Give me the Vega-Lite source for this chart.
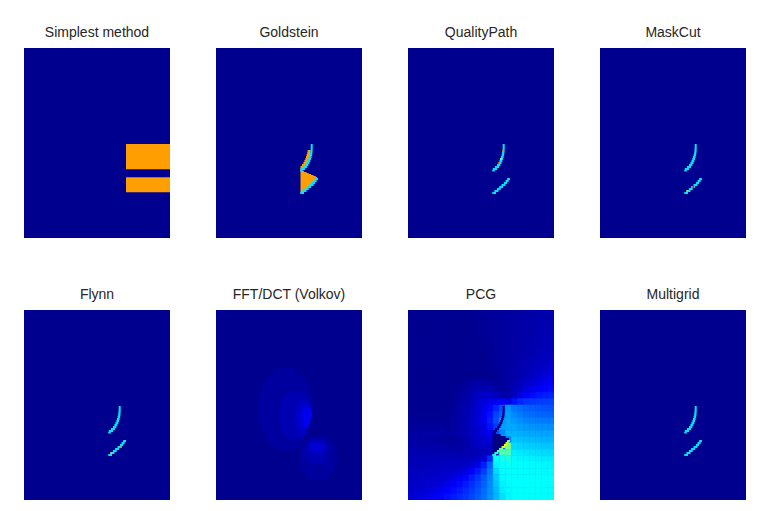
{
  "$schema": "https://vega.github.io/schema/vega-lite/v6.json",
  "background": "white",
  "padding": {"left": 24, "top": 26, "right": 0, "bottom": 0},
  "autosize": {"type": "pad"},
  "config": {
    "view": {"fill": "#00008f", "stroke": null},
    "title": {"font": "Liberation Sans", "fontSize": 14, "fontWeight": "normal", "color": "#262626", "offset": 8},
    "concat": {"spacing": 46}
  },
  "datasets": {
    "shapes": [
      {"m": ["Simplest method"], "x0": 102, "x1": 146, "y0": 96, "y1": 121.3, "v": 0.72},
      {"m": ["Simplest method"], "x0": 102, "x1": 146, "y0": 129.3, "y1": 144.3, "v": 0.72},

      {"m": ["Goldstein"], "x0": 91.6, "x1": 94.6, "y0": 102, "y1": 104, "v": 0.72},
      {"m": ["Goldstein"], "x0": 91.2, "x1": 94.4, "y0": 104, "y1": 106, "v": 0.72},
      {"m": ["Goldstein"], "x0": 90.6, "x1": 94.1, "y0": 106, "y1": 108, "v": 0.72},
      {"m": ["Goldstein"], "x0": 90, "x1": 93.6, "y0": 108, "y1": 110, "v": 0.72},
      {"m": ["Goldstein"], "x0": 89.3, "x1": 93, "y0": 110, "y1": 112, "v": 0.72},
      {"m": ["Goldstein"], "x0": 88.4, "x1": 92.3, "y0": 112, "y1": 114, "v": 0.72},
      {"m": ["Goldstein"], "x0": 87.4, "x1": 91.4, "y0": 114, "y1": 116, "v": 0.72},
      {"m": ["Goldstein"], "x0": 86, "x1": 90.4, "y0": 116, "y1": 118, "v": 0.72},
      {"m": ["Goldstein"], "x0": 84.5, "x1": 89, "y0": 118, "y1": 120, "v": 0.72},
      {"m": ["Goldstein"], "x0": 84.3, "x1": 85.5, "y0": 120, "y1": 122, "v": 0.72},
      {"m": ["Goldstein"], "x0": 84.5, "x1": 85.7, "y0": 122, "y1": 123, "v": 0.72},
      {"m": ["Goldstein"], "x0": 84.5, "x1": 88, "y0": 123, "y1": 124, "v": 0.72},
      {"m": ["Goldstein"], "x0": 84.5, "x1": 90.4, "y0": 124, "y1": 125, "v": 0.72},
      {"m": ["Goldstein"], "x0": 84.5, "x1": 92.7, "y0": 125, "y1": 126, "v": 0.72},
      {"m": ["Goldstein"], "x0": 84.5, "x1": 95.1, "y0": 126, "y1": 127, "v": 0.72},
      {"m": ["Goldstein"], "x0": 84.5, "x1": 97.5, "y0": 127, "y1": 128, "v": 0.72},
      {"m": ["Goldstein"], "x0": 84.5, "x1": 99.8, "y0": 128, "y1": 129, "v": 0.72},
      {"m": ["Goldstein"], "x0": 84.5, "x1": 101, "y0": 129, "y1": 130, "v": 0.72},
      {"m": ["Goldstein"], "x0": 84.5, "x1": 101.2, "y0": 130, "y1": 131, "v": 0.72},
      {"m": ["Goldstein"], "x0": 84.5, "x1": 100.5, "y0": 131, "y1": 132, "v": 0.72},
      {"m": ["Goldstein"], "x0": 84.5, "x1": 99.7, "y0": 132, "y1": 133, "v": 0.72},
      {"m": ["Goldstein"], "x0": 84.5, "x1": 98.9, "y0": 133, "y1": 134, "v": 0.72},
      {"m": ["Goldstein"], "x0": 84.5, "x1": 98.1, "y0": 134, "y1": 135, "v": 0.72},
      {"m": ["Goldstein"], "x0": 84.5, "x1": 97.3, "y0": 135, "y1": 136, "v": 0.72},
      {"m": ["Goldstein"], "x0": 84.5, "x1": 96.3, "y0": 136, "y1": 137, "v": 0.72},
      {"m": ["Goldstein"], "x0": 84.5, "x1": 95.1, "y0": 137, "y1": 138, "v": 0.72},
      {"m": ["Goldstein"], "x0": 84.5, "x1": 93.9, "y0": 138, "y1": 139, "v": 0.72},
      {"m": ["Goldstein"], "x0": 84.5, "x1": 92.7, "y0": 139, "y1": 140, "v": 0.72},
      {"m": ["Goldstein"], "x0": 84.5, "x1": 91.6, "y0": 140, "y1": 141, "v": 0.72},
      {"m": ["Goldstein"], "x0": 84.5, "x1": 90.5, "y0": 141, "y1": 142, "v": 0.72},
      {"m": ["Goldstein"], "x0": 84.5, "x1": 89.3, "y0": 142, "y1": 143, "v": 0.72},
      {"m": ["Goldstein"], "x0": 84.5, "x1": 88.1, "y0": 143, "y1": 144, "v": 0.72},
      {"m": ["Goldstein"], "x0": 84.5, "x1": 86.8, "y0": 144, "y1": 145, "v": 0.72},

      {"m": ["Goldstein", "QualityPath", "MaskCut", "Flynn", "Multigrid"], "x0": 94.7, "x1": 96.7, "y0": 96, "y1": 98, "v": 0.35},
      {"m": ["Goldstein", "QualityPath", "MaskCut", "Flynn", "Multigrid"], "x0": 94.7, "x1": 96.7, "y0": 98, "y1": 100, "v": 0.35},
      {"m": ["Goldstein", "QualityPath", "MaskCut", "Flynn", "Multigrid"], "x0": 94.6, "x1": 96.7, "y0": 100, "y1": 102, "v": 0.35},
      {"m": ["Goldstein", "QualityPath", "MaskCut", "Flynn", "Multigrid"], "x0": 94.4, "x1": 96.6, "y0": 102, "y1": 104, "v": 0.35},
      {"m": ["Goldstein", "QualityPath", "MaskCut", "Flynn", "Multigrid"], "x0": 94.1, "x1": 96.4, "y0": 104, "y1": 106, "v": 0.35},
      {"m": ["Goldstein", "QualityPath", "MaskCut", "Flynn", "Multigrid"], "x0": 93.6, "x1": 96.1, "y0": 106, "y1": 108, "v": 0.35},
      {"m": ["Goldstein", "QualityPath", "MaskCut", "Flynn", "Multigrid"], "x0": 93, "x1": 95.6, "y0": 108, "y1": 110, "v": 0.35},
      {"m": ["Goldstein", "QualityPath", "MaskCut", "Flynn", "Multigrid"], "x0": 92.3, "x1": 95, "y0": 110, "y1": 112, "v": 0.35},
      {"m": ["Goldstein", "QualityPath", "MaskCut", "Flynn", "Multigrid"], "x0": 91.4, "x1": 94.3, "y0": 112, "y1": 114, "v": 0.35},
      {"m": ["Goldstein", "QualityPath", "MaskCut", "Flynn", "Multigrid"], "x0": 90.4, "x1": 93.4, "y0": 114, "y1": 116, "v": 0.35},
      {"m": ["Goldstein", "QualityPath", "MaskCut", "Flynn", "Multigrid"], "x0": 89, "x1": 92.4, "y0": 116, "y1": 118, "v": 0.35},
      {"m": ["Goldstein", "QualityPath", "MaskCut", "Flynn", "Multigrid"], "x0": 87, "x1": 91, "y0": 118, "y1": 120, "v": 0.35},
      {"m": ["Goldstein", "QualityPath", "MaskCut", "Flynn", "Multigrid"], "x0": 84.8, "x1": 89, "y0": 120, "y1": 122, "v": 0.35},
      {"m": ["Goldstein", "QualityPath", "MaskCut", "Flynn", "Multigrid"], "x0": 84.2, "x1": 86.8, "y0": 122, "y1": 123.5, "v": 0.35},
      {"m": ["Goldstein", "QualityPath", "MaskCut", "Flynn", "Multigrid"], "x0": 99.1, "x1": 102, "y0": 130, "y1": 132, "v": 0.35},
      {"m": ["Goldstein", "QualityPath", "MaskCut", "Flynn", "Multigrid"], "x0": 97.5, "x1": 100.7, "y0": 132, "y1": 134, "v": 0.35},
      {"m": ["Goldstein", "QualityPath", "MaskCut", "Flynn", "Multigrid"], "x0": 95.9, "x1": 99.1, "y0": 134, "y1": 136, "v": 0.35},
      {"m": ["Goldstein", "QualityPath", "MaskCut", "Flynn", "Multigrid"], "x0": 93.5, "x1": 97.5, "y0": 136, "y1": 138, "v": 0.35},
      {"m": ["Goldstein", "QualityPath", "MaskCut", "Flynn", "Multigrid"], "x0": 91.1, "x1": 95.1, "y0": 138, "y1": 140, "v": 0.35},
      {"m": ["Goldstein", "QualityPath", "MaskCut", "Flynn", "Multigrid"], "x0": 88.9, "x1": 92.7, "y0": 140, "y1": 142, "v": 0.35},
      {"m": ["Goldstein", "QualityPath", "MaskCut", "Flynn", "Multigrid"], "x0": 86.4, "x1": 90.5, "y0": 142, "y1": 144, "v": 0.35},
      {"m": ["Goldstein", "QualityPath", "MaskCut", "Flynn", "Multigrid"], "x0": 84.3, "x1": 88, "y0": 144, "y1": 146, "v": 0.35},

      {"m": ["QualityPath"], "x0": 94.2, "x1": 95.8, "y0": 102, "y1": 104, "v": 0.75},
      {"m": ["QualityPath"], "x0": 92.2, "x1": 93.8, "y0": 110, "y1": 112, "v": 0.5},
      {"m": ["QualityPath"], "x0": 89.8, "x1": 91.4, "y0": 114, "y1": 116, "v": 0.8},
      {"m": ["MaskCut"], "x0": 92.4, "x1": 94.2, "y0": 138, "y1": 140, "v": 0.85},
      {"m": ["MaskCut"], "x0": 86.4, "x1": 88.2, "y0": 142, "y1": 144, "v": 0.7},
      {"m": ["Flynn"], "x0": 96.4, "x1": 98, "y0": 136, "y1": 138, "v": 0.75},
      {"m": ["Flynn"], "x0": 86.4, "x1": 88.2, "y0": 142, "y1": 144, "v": 0.7},

      {"m": ["PCG"], "x0": 84.5, "x1": 88, "y0": 122, "y1": 124, "v": 0},
      {"m": ["PCG"], "x0": 84.5, "x1": 92.7, "y0": 124, "y1": 126, "v": 0},
      {"m": ["PCG"], "x0": 84.5, "x1": 97.5, "y0": 126, "y1": 128, "v": 0},
      {"m": ["PCG"], "x0": 84.5, "x1": 101, "y0": 128, "y1": 130, "v": 0},
      {"m": ["PCG"], "x0": 84.5, "x1": 100.5, "y0": 130, "y1": 132, "v": 0},
      {"m": ["PCG"], "x0": 84.5, "x1": 99, "y0": 132, "y1": 134, "v": 0},
      {"m": ["PCG"], "x0": 84.5, "x1": 97, "y0": 134, "y1": 136, "v": 0},
      {"m": ["PCG"], "x0": 84.5, "x1": 94.5, "y0": 136, "y1": 138, "v": 0},
      {"m": ["PCG"], "x0": 84.5, "x1": 92.5, "y0": 138, "y1": 140, "v": 0},
      {"m": ["PCG"], "x0": 84.5, "x1": 90, "y0": 140, "y1": 142, "v": 0},
      {"m": ["PCG"], "x0": 84.5, "x1": 87.5, "y0": 142, "y1": 144, "v": 0},
      {"m": ["PCG"], "x0": 99.1, "x1": 102, "y0": 130, "y1": 132, "v": 0.5},
      {"m": ["PCG"], "x0": 97.5, "x1": 100.7, "y0": 132, "y1": 134, "v": 0.58},
      {"m": ["PCG"], "x0": 95.9, "x1": 99.1, "y0": 134, "y1": 136, "v": 0.6},
      {"m": ["PCG"], "x0": 93.5, "x1": 97.5, "y0": 136, "y1": 138, "v": 0.58},
      {"m": ["PCG"], "x0": 91.1, "x1": 95.1, "y0": 138, "y1": 140, "v": 0.5},
      {"m": ["PCG"], "x0": 88.9, "x1": 92.7, "y0": 140, "y1": 142, "v": 0.45},
      {"m": ["PCG"], "x0": 86.4, "x1": 90.5, "y0": 142, "y1": 144, "v": 0.4},
      {"m": ["PCG"], "x0": 84.3, "x1": 88, "y0": 144, "y1": 146, "v": 0.38},
      {"m": ["PCG"], "x0": 94.7, "x1": 96.7, "y0": 96, "y1": 98, "v": 0.005},
      {"m": ["PCG"], "x0": 94.7, "x1": 96.7, "y0": 98, "y1": 100, "v": 0.005},
      {"m": ["PCG"], "x0": 94.6, "x1": 96.7, "y0": 100, "y1": 102, "v": 0.005},
      {"m": ["PCG"], "x0": 94.4, "x1": 96.6, "y0": 102, "y1": 104, "v": 0.005},
      {"m": ["PCG"], "x0": 94.1, "x1": 96.4, "y0": 104, "y1": 106, "v": 0.005},
      {"m": ["PCG"], "x0": 93.6, "x1": 96.1, "y0": 106, "y1": 108, "v": 0.005},
      {"m": ["PCG"], "x0": 93, "x1": 95.6, "y0": 108, "y1": 110, "v": 0.005},
      {"m": ["PCG"], "x0": 92.3, "x1": 95, "y0": 110, "y1": 112, "v": 0.005},
      {"m": ["PCG"], "x0": 91.4, "x1": 94.3, "y0": 112, "y1": 114, "v": 0.005},
      {"m": ["PCG"], "x0": 90.4, "x1": 93.4, "y0": 114, "y1": 116, "v": 0.005},
      {"m": ["PCG"], "x0": 89, "x1": 92.4, "y0": 116, "y1": 118, "v": 0.005},
      {"m": ["PCG"], "x0": 87, "x1": 91, "y0": 118, "y1": 120, "v": 0.005},
      {"m": ["PCG"], "x0": 84.8, "x1": 89, "y0": 120, "y1": 122, "v": 0.005},

      {"m": ["FFT/DCT (Volkov)"], "x0": 61.5, "x1": 78.5, "y0": 58, "y1": 62, "v": 0.03},
      {"m": ["FFT/DCT (Volkov)"], "x0": 55.6, "x1": 84.4, "y0": 62, "y1": 66, "v": 0.03},
      {"m": ["FFT/DCT (Volkov)"], "x0": 51.9, "x1": 88.1, "y0": 66, "y1": 70, "v": 0.03},
      {"m": ["FFT/DCT (Volkov)"], "x0": 49.1, "x1": 90.9, "y0": 70, "y1": 74, "v": 0.03},
      {"m": ["FFT/DCT (Volkov)"], "x0": 47, "x1": 93, "y0": 74, "y1": 78, "v": 0.03},
      {"m": ["FFT/DCT (Volkov)"], "x0": 45.4, "x1": 94.6, "y0": 78, "y1": 82, "v": 0.03},
      {"m": ["FFT/DCT (Volkov)"], "x0": 44.1, "x1": 95.9, "y0": 82, "y1": 86, "v": 0.03},
      {"m": ["FFT/DCT (Volkov)"], "x0": 43.2, "x1": 96.8, "y0": 86, "y1": 90, "v": 0.03},
      {"m": ["FFT/DCT (Volkov)"], "x0": 42.5, "x1": 97, "y0": 90, "y1": 94, "v": 0.03},
      {"m": ["FFT/DCT (Volkov)"], "x0": 42.1, "x1": 97, "y0": 94, "y1": 98, "v": 0.03},
      {"m": ["FFT/DCT (Volkov)"], "x0": 42, "x1": 96.5, "y0": 98, "y1": 102, "v": 0.03},
      {"m": ["FFT/DCT (Volkov)"], "x0": 42.1, "x1": 96, "y0": 102, "y1": 106, "v": 0.03},
      {"m": ["FFT/DCT (Volkov)"], "x0": 42.5, "x1": 95, "y0": 106, "y1": 110, "v": 0.03},
      {"m": ["FFT/DCT (Volkov)"], "x0": 43.2, "x1": 94, "y0": 110, "y1": 114, "v": 0.03},
      {"m": ["FFT/DCT (Volkov)"], "x0": 44.1, "x1": 92.5, "y0": 114, "y1": 118, "v": 0.03},
      {"m": ["FFT/DCT (Volkov)"], "x0": 45.4, "x1": 90, "y0": 118, "y1": 122, "v": 0.03},
      {"m": ["FFT/DCT (Volkov)"], "x0": 47, "x1": 90, "y0": 122, "y1": 126, "v": 0.03},
      {"m": ["FFT/DCT (Volkov)"], "x0": 49.1, "x1": 88, "y0": 126, "y1": 130, "v": 0.03},
      {"m": ["FFT/DCT (Volkov)"], "x0": 51.9, "x1": 86, "y0": 130, "y1": 134, "v": 0.03},
      {"m": ["FFT/DCT (Volkov)"], "x0": 55.6, "x1": 84.4, "y0": 134, "y1": 138, "v": 0.03},
      {"m": ["FFT/DCT (Volkov)"], "x0": 61.5, "x1": 78.5, "y0": 138, "y1": 142, "v": 0.03},
      {"m": ["FFT/DCT (Volkov)"], "x0": 92.6, "x1": 111.4, "y0": 126, "y1": 130, "v": 0.03},
      {"m": ["FFT/DCT (Volkov)"], "x0": 88.4, "x1": 115.6, "y0": 130, "y1": 134, "v": 0.03},
      {"m": ["FFT/DCT (Volkov)"], "x0": 85.8, "x1": 118.2, "y0": 134, "y1": 138, "v": 0.03},
      {"m": ["FFT/DCT (Volkov)"], "x0": 84.2, "x1": 119.8, "y0": 138, "y1": 142, "v": 0.03},
      {"m": ["FFT/DCT (Volkov)"], "x0": 83.3, "x1": 120.7, "y0": 142, "y1": 146, "v": 0.03},
      {"m": ["FFT/DCT (Volkov)"], "x0": 83, "x1": 121, "y0": 146, "y1": 150, "v": 0.03},
      {"m": ["FFT/DCT (Volkov)"], "x0": 83.3, "x1": 120.7, "y0": 150, "y1": 154, "v": 0.03},
      {"m": ["FFT/DCT (Volkov)"], "x0": 84.2, "x1": 119.8, "y0": 154, "y1": 158, "v": 0.03},
      {"m": ["FFT/DCT (Volkov)"], "x0": 85.8, "x1": 118.2, "y0": 158, "y1": 162, "v": 0.03},
      {"m": ["FFT/DCT (Volkov)"], "x0": 88.4, "x1": 115.6, "y0": 162, "y1": 166, "v": 0.03},
      {"m": ["FFT/DCT (Volkov)"], "x0": 92.6, "x1": 111.4, "y0": 166, "y1": 170, "v": 0.03},
      {"m": ["FFT/DCT (Volkov)"], "x0": 71.9, "x1": 88.1, "y0": 82, "y1": 86, "v": 0.05},
      {"m": ["FFT/DCT (Volkov)"], "x0": 68.2, "x1": 91.8, "y0": 86, "y1": 90, "v": 0.05},
      {"m": ["FFT/DCT (Volkov)"], "x0": 65.9, "x1": 94.1, "y0": 90, "y1": 94, "v": 0.05},
      {"m": ["FFT/DCT (Volkov)"], "x0": 64.4, "x1": 95.6, "y0": 94, "y1": 98, "v": 0.05},
      {"m": ["FFT/DCT (Volkov)"], "x0": 63.5, "x1": 96, "y0": 98, "y1": 102, "v": 0.05},
      {"m": ["FFT/DCT (Volkov)"], "x0": 63, "x1": 96, "y0": 102, "y1": 106, "v": 0.05},
      {"m": ["FFT/DCT (Volkov)"], "x0": 63, "x1": 95, "y0": 106, "y1": 110, "v": 0.05},
      {"m": ["FFT/DCT (Volkov)"], "x0": 63.5, "x1": 94, "y0": 110, "y1": 114, "v": 0.05},
      {"m": ["FFT/DCT (Volkov)"], "x0": 64.4, "x1": 92.5, "y0": 114, "y1": 118, "v": 0.05},
      {"m": ["FFT/DCT (Volkov)"], "x0": 65.9, "x1": 90, "y0": 118, "y1": 122, "v": 0.05},
      {"m": ["FFT/DCT (Volkov)"], "x0": 68.2, "x1": 91.8, "y0": 122, "y1": 126, "v": 0.05},
      {"m": ["FFT/DCT (Volkov)"], "x0": 71.9, "x1": 88.1, "y0": 126, "y1": 130, "v": 0.05},
      {"m": ["FFT/DCT (Volkov)"], "x0": 92.6, "x1": 109.4, "y0": 130, "y1": 134, "v": 0.05},
      {"m": ["FFT/DCT (Volkov)"], "x0": 90.2, "x1": 111.8, "y0": 134, "y1": 138, "v": 0.05},
      {"m": ["FFT/DCT (Volkov)"], "x0": 89.1, "x1": 112.9, "y0": 138, "y1": 142, "v": 0.05},
      {"m": ["FFT/DCT (Volkov)"], "x0": 89.1, "x1": 112.9, "y0": 142, "y1": 146, "v": 0.05},
      {"m": ["FFT/DCT (Volkov)"], "x0": 90.2, "x1": 111.8, "y0": 146, "y1": 150, "v": 0.05},
      {"m": ["FFT/DCT (Volkov)"], "x0": 92.6, "x1": 109.4, "y0": 150, "y1": 154, "v": 0.05},
      {"m": ["FFT/DCT (Volkov)"], "x0": 83.6, "x1": 92.4, "y0": 92, "y1": 96, "v": 0.075},
      {"m": ["FFT/DCT (Volkov)"], "x0": 81, "x1": 95, "y0": 96, "y1": 100, "v": 0.075},
      {"m": ["FFT/DCT (Volkov)"], "x0": 79.7, "x1": 96, "y0": 100, "y1": 104, "v": 0.075},
      {"m": ["FFT/DCT (Volkov)"], "x0": 79.1, "x1": 96, "y0": 104, "y1": 108, "v": 0.075},
      {"m": ["FFT/DCT (Volkov)"], "x0": 79.1, "x1": 95, "y0": 108, "y1": 112, "v": 0.075},
      {"m": ["FFT/DCT (Volkov)"], "x0": 79.7, "x1": 93.5, "y0": 112, "y1": 116, "v": 0.075},
      {"m": ["FFT/DCT (Volkov)"], "x0": 81, "x1": 91.5, "y0": 116, "y1": 120, "v": 0.075},
      {"m": ["FFT/DCT (Volkov)"], "x0": 83.6, "x1": 89, "y0": 120, "y1": 124, "v": 0.075},
      {"m": ["FFT/DCT (Volkov)"], "x0": 93.8, "x1": 108.2, "y0": 132, "y1": 136, "v": 0.08},
      {"m": ["FFT/DCT (Volkov)"], "x0": 93.1, "x1": 108.9, "y0": 136, "y1": 140, "v": 0.08},
      {"m": ["FFT/DCT (Volkov)"], "x0": 95.4, "x1": 106.6, "y0": 140, "y1": 144, "v": 0.08},
      {"m": ["FFT/DCT (Volkov)"], "x0": 87.1, "x1": 95, "y0": 98, "y1": 102, "v": 0.11},
      {"m": ["FFT/DCT (Volkov)"], "x0": 86.2, "x1": 95.8, "y0": 102, "y1": 106, "v": 0.11},
      {"m": ["FFT/DCT (Volkov)"], "x0": 86, "x1": 95.5, "y0": 106, "y1": 110, "v": 0.11},
      {"m": ["FFT/DCT (Volkov)"], "x0": 86.5, "x1": 94, "y0": 110, "y1": 114, "v": 0.11},
      {"m": ["FFT/DCT (Volkov)"], "x0": 88.1, "x1": 92.5, "y0": 114, "y1": 118, "v": 0.11}
    ],
    "pcg": [
      {"r": 0, "c": [0,1,2,3,4,5,6,7,8,9,10,11,12,13,14,15,16,17,18,19,20,21,22,23], "v": [0.016,0.016,0.016,0.016,0.016,0.016,0.016,0.016,0.016,0.016,0.02,0.025,0.027,0.028,0.03,0.03,0.032,0.034,0.036,0.038,0.04,0.042,0.044,0.046]},
      {"r": 1, "c": [0,1,2,3,4,5,6,7,8,9,10,11,12,13,14,15,16,17,18,19,20,21,22,23], "v": [0.016,0.016,0.016,0.016,0.016,0.016,0.016,0.016,0.016,0.016,0.016,0.022,0.024,0.026,0.028,0.03,0.032,0.034,0.036,0.039,0.041,0.044,0.046,0.049]},
      {"r": 2, "c": [0,1,2,3,4,5,6,7,8,9,10,11,12,13,14,15,16,17,18,19,20,21,22,23], "v": [0.016,0.016,0.016,0.016,0.016,0.016,0.016,0.016,0.016,0.016,0.016,0.02,0.024,0.026,0.028,0.03,0.032,0.034,0.037,0.04,0.042,0.045,0.047,0.051]},
      {"r": 3, "c": [0,1,2,3,4,5,6,7,8,9,10,11,12,13,14,15,16,17,18,19,20,21,22,23], "v": [0.016,0.016,0.016,0.016,0.016,0.016,0.016,0.016,0.016,0.016,0.016,0.018,0.023,0.026,0.028,0.03,0.032,0.035,0.037,0.04,0.043,0.046,0.049,0.053]},
      {"r": 4, "c": [0,1,2,3,4,5,6,7,8,9,10,11,12,13,14,15,16,17,18,19,20,21,22,23], "v": [0.016,0.016,0.016,0.016,0.016,0.016,0.016,0.016,0.016,0.016,0.016,0.016,0.022,0.025,0.028,0.03,0.032,0.035,0.038,0.041,0.044,0.047,0.051,0.055]},
      {"r": 5, "c": [0,1,2,3,4,5,6,7,8,9,10,11,12,13,14,15,16,17,18,19,20,21,22,23], "v": [0.016,0.016,0.016,0.016,0.016,0.016,0.016,0.016,0.016,0.016,0.016,0.016,0.02,0.024,0.027,0.03,0.032,0.036,0.039,0.043,0.046,0.05,0.054,0.058]},
      {"r": 6, "c": [0,1,2,3,4,5,6,7,8,9,10,11,12,13,14,15,16,17,18,19,20,21,22,23], "v": [0.016,0.016,0.016,0.016,0.016,0.016,0.016,0.016,0.016,0.016,0.016,0.016,0.017,0.023,0.027,0.03,0.033,0.036,0.04,0.044,0.048,0.053,0.057,0.062]},
      {"r": 7, "c": [0,1,2,3,4,5,6,7,8,9,10,11,12,13,14,15,16,17,18,19,20,21,22,23], "v": [0.016,0.016,0.016,0.016,0.016,0.016,0.016,0.016,0.016,0.016,0.016,0.016,0.016,0.022,0.026,0.029,0.033,0.037,0.041,0.046,0.051,0.056,0.061,0.066]},
      {"r": 8, "c": [0,1,2,3,4,5,6,7,8,9,10,11,12,13,14,15,16,17,18,19,20,21,22,23], "v": [0.016,0.016,0.016,0.016,0.016,0.016,0.016,0.016,0.016,0.016,0.016,0.016,0.016,0.02,0.026,0.029,0.033,0.038,0.043,0.049,0.055,0.061,0.067,0.073]},
      {"r": 9, "c": [0,1,2,3,4,5,6,7,8,9,10,11,12,13,14,15,16,17,18,19,20,21,22,23], "v": [0.016,0.016,0.016,0.016,0.016,0.016,0.016,0.016,0.016,0.016,0.016,0.016,0.016,0.016,0.025,0.029,0.034,0.04,0.045,0.053,0.06,0.067,0.074,0.082]},
      {"r": 10, "c": [0,1,2,3,4,5,6,7,8,9,10,11,12,13,14,15,16,17,18,19,20,21,22,23], "v": [0.016,0.016,0.016,0.016,0.016,0.016,0.016,0.016,0.016,0.016,0.016,0.016,0.016,0.016,0.023,0.029,0.035,0.042,0.049,0.058,0.068,0.076,0.087,0.095]},
      {"r": 11, "c": [0,1,2,3,4,5,6,7,8,9,10,11,12,13,14,15,16,17,18,19,20,21,22,23], "v": [0.016,0.016,0.016,0.016,0.016,0.016,0.016,0.016,0.016,0.025,0.03,0.035,0.035,0.03,0.025,0.028,0.036,0.045,0.056,0.07,0.082,0.094,0.105,0.115]},
      {"r": 12, "c": [0,1,2,3,4,5,6,7,8,9,10,11,12,13,14,15,16,17,18,19,20,21,22,23], "v": [0.016,0.016,0.016,0.016,0.016,0.016,0.016,0.016,0.025,0.03,0.04,0.05,0.05,0.045,0.035,0.03,0.038,0.052,0.067,0.088,0.103,0.116,0.126,0.134]},
      {"r": 13, "c": [0,1,2,3,4,5,6,7,8,9,10,11,12,13,14,15,16,17,18,19,20,21,22,23], "v": [0.016,0.016,0.016,0.016,0.016,0.016,0.016,0.016,0.03,0.035,0.05,0.065,0.07,0.07,0.06,0.04,0.043,0.067,0.095,0.12,0.133,0.145,0.152,0.158]},
      {"r": 14, "c": [0,1,2,3,4,5,6,7,8,9,10,11,12,13,14,15,16,17,18,19,20,21,22,23], "v": [0.016,0.016,0.016,0.016,0.016,0.016,0.016,0.025,0.03,0.04,0.055,0.075,0.09,0.1,0.11,0.12,0.1,0.14,0.162,0.174,0.179,0.183,0.185,0.187]},
      {"r": 15, "c": [0,1,2,3,4,5,6,7,8,9,10,11,12,13,14,15,16,17,18,19,20,21,22,23], "v": [0.016,0.016,0.016,0.016,0.016,0.016,0.016,0.025,0.035,0.045,0.06,0.08,0.1,0.13,0.16,0.2,0.27,0.24,0.23,0.22,0.215,0.21,0.207,0.205]},
      {"r": 16, "c": [0,1,2,3,4,5,6,7,8,9,10,11,12,13,14,15,16,17,18,19,20,21,22,23], "v": [0.018,0.018,0.018,0.018,0.018,0.018,0.02,0.028,0.035,0.05,0.065,0.085,0.11,0.14,0.19,0.22,0.28,0.26,0.245,0.235,0.23,0.225,0.222,0.22]},
      {"r": 17, "c": [0,1,2,3,4,5,6,7,8,9,10,11,12,13,14,15,16,17,18,19,20,21,22,23], "v": [0.022,0.022,0.022,0.022,0.022,0.022,0.022,0.03,0.038,0.05,0.065,0.085,0.11,0.15,0.2,0.27,0.29,0.275,0.265,0.255,0.25,0.248,0.246,0.245]},
      {"r": 18, "c": [0,1,2,3,4,5,6,7,8,9,10,11,12,13,14,15,16,17,18,19,20,21,22,23], "v": [0.028,0.028,0.028,0.028,0.028,0.028,0.025,0.03,0.04,0.05,0.065,0.08,0.1,0.14,0.18,0.28,0.29,0.29,0.28,0.275,0.27,0.268,0.266,0.265]},
      {"r": 19, "c": [0,1,2,3,4,5,6,7,8,9,10,11,12,13,14,15,16,17,18,19,20,21,22,23], "v": [0.034,0.034,0.034,0.034,0.034,0.034,0.03,0.035,0.04,0.05,0.06,0.075,0.09,0.12,0.2,0.26,0.3,0.3,0.295,0.29,0.288,0.287,0.286,0.285]},
      {"r": 20, "c": [0,1,2,3,4,5,6,7,8,9,10,11,12,13,14,15,16,17,18,19,20,21,22,23], "v": [0.037,0.035,0.034,0.032,0.031,0.029,0.027,0.026,0.03,0.04,0.06,0.07,0.08,0.09,0.02,0.03,0.25,0.32,0.315,0.31,0.305,0.303,0.3,0.3]},
      {"r": 21, "c": [0,1,2,3,4,5,6,7,8,9,10,11,12,13,14,15,16,17,18,19,20,21,22,23], "v": [0.042,0.041,0.04,0.04,0.039,0.037,0.035,0.033,0.033,0.04,0.055,0.065,0.07,0.075,0.02,0.2,0.5,0.34,0.335,0.33,0.325,0.322,0.32,0.32]},
      {"r": 22, "c": [0,1,2,3,4,5,6,7,8,9,10,11,12,13,14,15,16,17,18,19,20,21,22,23], "v": [0.047,0.047,0.047,0.046,0.046,0.046,0.045,0.044,0.043,0.045,0.05,0.05,0.06,0.06,0.04,0.45,0.45,0.36,0.355,0.35,0.345,0.342,0.34,0.34]},
      {"r": 23, "c": [0,1,2,3,4,5,6,7,8,9,10,11,12,13,14,15,16,17,18,19,20,21,22,23], "v": [0.053,0.053,0.053,0.054,0.054,0.054,0.055,0.056,0.057,0.058,0.061,0.065,0.079,0.165,0.38,0.39,0.4,0.37,0.365,0.365,0.36,0.358,0.356,0.355]},
      {"r": 24, "c": [0,1,2,3,4,5,6,7,8,9,10,11,12,13,14,15,16,17,18,19,20,21,22,23], "v": [0.057,0.058,0.058,0.059,0.06,0.061,0.063,0.064,0.068,0.073,0.081,0.105,0.153,0.22,0.362,0.375,0.385,0.378,0.375,0.375,0.372,0.37,0.368,0.365]},
      {"r": 25, "c": [0,1,2,3,4,5,6,7,8,9,10,11,12,13,14,15,16,17,18,19,20,21,22,23], "v": [0.061,0.062,0.063,0.064,0.066,0.068,0.072,0.076,0.082,0.095,0.121,0.149,0.186,0.24,0.338,0.375,0.378,0.378,0.376,0.375,0.374,0.373,0.372,0.372]},
      {"r": 26, "c": [0,1,2,3,4,5,6,7,8,9,10,11,12,13,14,15,16,17,18,19,20,21,22,23], "v": [0.066,0.068,0.07,0.072,0.075,0.079,0.084,0.095,0.112,0.13,0.152,0.177,0.21,0.252,0.322,0.37,0.375,0.375,0.375,0.375,0.375,0.375,0.375,0.375]},
      {"r": 27, "c": [0,1,2,3,4,5,6,7,8,9,10,11,12,13,14,15,16,17,18,19,20,21,22,23], "v": [0.071,0.074,0.076,0.079,0.083,0.089,0.104,0.118,0.133,0.15,0.17,0.192,0.22,0.258,0.315,0.363,0.372,0.375,0.375,0.375,0.375,0.375,0.375,0.375]},
      {"r": 28, "c": [0,1,2,3,4,5,6,7,8,9,10,11,12,13,14,15,16,17,18,19,20,21,22,23], "v": [0.077,0.08,0.083,0.088,0.097,0.108,0.123,0.136,0.149,0.164,0.182,0.203,0.228,0.263,0.305,0.357,0.37,0.375,0.375,0.375,0.375,0.375,0.375,0.375]},
      {"r": 29, "c": [0,1,2,3,4,5,6,7,8,9,10,11,12,13,14,15,16,17,18,19,20,21,22,23], "v": [0.084,0.089,0.096,0.104,0.116,0.126,0.138,0.15,0.163,0.177,0.194,0.213,0.235,0.266,0.303,0.345,0.368,0.375,0.375,0.375,0.375,0.375,0.375,0.375]}
    ]
  },
  "spacing": 50,
  "vconcat": [
    {
      "hconcat": [
        {"title": "Simplest method", "width": 146, "height": 190, "data": {"name": "shapes"},
         "transform": [{"flatten": ["m"]}, {"filter": "datum.m === 'Simplest method'"}],
         "mark": {"type": "rect", "clip": true},
         "encoding": {
           "x": {"field": "x0", "type": "quantitative", "scale": {"domain": [0, 146], "nice": false, "zero": false}, "axis": null},
           "x2": {"field": "x1"},
           "y": {"field": "y0", "type": "quantitative", "scale": {"domain": [0, 190], "nice": false, "zero": false, "reverse": true}, "axis": null},
           "y2": {"field": "y1"},
           "color": {"field": "v", "type": "quantitative", "scale": {"domain": [0, 0.125, 0.375, 0.625, 0.875, 1], "range": ["#000080", "#0000ff", "#00ffff", "#ffff00", "#ff0000", "#800000"], "interpolate": "rgb"}, "legend": null}
         }},
        {"title": "Goldstein", "width": 146, "height": 190, "data": {"name": "shapes"},
         "transform": [{"flatten": ["m"]}, {"filter": "datum.m === 'Goldstein'"}],
         "mark": {"type": "rect", "clip": true},
         "encoding": {
           "x": {"field": "x0", "type": "quantitative", "scale": {"domain": [0, 146], "nice": false, "zero": false}, "axis": null},
           "x2": {"field": "x1"},
           "y": {"field": "y0", "type": "quantitative", "scale": {"domain": [0, 190], "nice": false, "zero": false, "reverse": true}, "axis": null},
           "y2": {"field": "y1"},
           "color": {"field": "v", "type": "quantitative", "scale": {"domain": [0, 0.125, 0.375, 0.625, 0.875, 1], "range": ["#000080", "#0000ff", "#00ffff", "#ffff00", "#ff0000", "#800000"], "interpolate": "rgb"}, "legend": null}
         }},
        {"title": "QualityPath", "width": 146, "height": 190, "data": {"name": "shapes"},
         "transform": [{"flatten": ["m"]}, {"filter": "datum.m === 'QualityPath'"}],
         "mark": {"type": "rect", "clip": true},
         "encoding": {
           "x": {"field": "x0", "type": "quantitative", "scale": {"domain": [0, 146], "nice": false, "zero": false}, "axis": null},
           "x2": {"field": "x1"},
           "y": {"field": "y0", "type": "quantitative", "scale": {"domain": [0, 190], "nice": false, "zero": false, "reverse": true}, "axis": null},
           "y2": {"field": "y1"},
           "color": {"field": "v", "type": "quantitative", "scale": {"domain": [0, 0.125, 0.375, 0.625, 0.875, 1], "range": ["#000080", "#0000ff", "#00ffff", "#ffff00", "#ff0000", "#800000"], "interpolate": "rgb"}, "legend": null}
         }},
        {"title": "MaskCut", "width": 146, "height": 190, "data": {"name": "shapes"},
         "transform": [{"flatten": ["m"]}, {"filter": "datum.m === 'MaskCut'"}],
         "mark": {"type": "rect", "clip": true},
         "encoding": {
           "x": {"field": "x0", "type": "quantitative", "scale": {"domain": [0, 146], "nice": false, "zero": false}, "axis": null},
           "x2": {"field": "x1"},
           "y": {"field": "y0", "type": "quantitative", "scale": {"domain": [0, 190], "nice": false, "zero": false, "reverse": true}, "axis": null},
           "y2": {"field": "y1"},
           "color": {"field": "v", "type": "quantitative", "scale": {"domain": [0, 0.125, 0.375, 0.625, 0.875, 1], "range": ["#000080", "#0000ff", "#00ffff", "#ffff00", "#ff0000", "#800000"], "interpolate": "rgb"}, "legend": null}
         }}
      ]
    },
    {
      "hconcat": [
        {"title": "Flynn", "width": 146, "height": 190, "data": {"name": "shapes"},
         "transform": [{"flatten": ["m"]}, {"filter": "datum.m === 'Flynn'"}],
         "mark": {"type": "rect", "clip": true},
         "encoding": {
           "x": {"field": "x0", "type": "quantitative", "scale": {"domain": [0, 146], "nice": false, "zero": false}, "axis": null},
           "x2": {"field": "x1"},
           "y": {"field": "y0", "type": "quantitative", "scale": {"domain": [0, 190], "nice": false, "zero": false, "reverse": true}, "axis": null},
           "y2": {"field": "y1"},
           "color": {"field": "v", "type": "quantitative", "scale": {"domain": [0, 0.125, 0.375, 0.625, 0.875, 1], "range": ["#000080", "#0000ff", "#00ffff", "#ffff00", "#ff0000", "#800000"], "interpolate": "rgb"}, "legend": null}
         }},
        {"title": "FFT/DCT (Volkov)", "width": 146, "height": 190, "data": {"name": "shapes"},
         "transform": [{"flatten": ["m"]}, {"filter": "datum.m === 'FFT/DCT (Volkov)'"}],
         "mark": {"type": "rect", "clip": true},
         "encoding": {
           "x": {"field": "x0", "type": "quantitative", "scale": {"domain": [0, 146], "nice": false, "zero": false}, "axis": null},
           "x2": {"field": "x1"},
           "y": {"field": "y0", "type": "quantitative", "scale": {"domain": [0, 190], "nice": false, "zero": false, "reverse": true}, "axis": null},
           "y2": {"field": "y1"},
           "color": {"field": "v", "type": "quantitative", "scale": {"domain": [0, 0.125, 0.375, 0.625, 0.875, 1], "range": ["#000080", "#0000ff", "#00ffff", "#ffff00", "#ff0000", "#800000"], "interpolate": "rgb"}, "legend": null}
         }},
        {"title": "PCG", "width": 146, "height": 190,
         "layer": [
           {"data": {"name": "pcg"},
            "transform": [{"flatten": ["c", "v"]}],
            "mark": {"type": "rect", "strokeWidth": 0.6, "clip": true},
            "encoding": {
              "x": {"field": "c", "type": "ordinal", "axis": null},
              "y": {"field": "r", "type": "ordinal", "axis": null},
              "color": {"field": "v", "type": "quantitative", "scale": {"domain": [0, 0.125, 0.375, 0.625, 0.875, 1], "range": ["#000080", "#0000ff", "#00ffff", "#ffff00", "#ff0000", "#800000"], "interpolate": "rgb"}, "legend": null},
              "stroke": {"field": "v", "type": "quantitative", "scale": {"domain": [0, 0.125, 0.375, 0.625, 0.875, 1], "range": ["#000080", "#0000ff", "#00ffff", "#ffff00", "#ff0000", "#800000"], "interpolate": "rgb"}, "legend": null}
            }},
           {"data": {"name": "shapes"},
            "transform": [{"flatten": ["m"]}, {"filter": "datum.m === 'PCG'"}],
            "mark": {"type": "rect", "clip": true},
            "encoding": {
              "x": {"field": "x0", "type": "quantitative", "scale": {"domain": [0, 146], "nice": false, "zero": false}, "axis": null},
              "x2": {"field": "x1"},
              "y": {"field": "y0", "type": "quantitative", "scale": {"domain": [0, 190], "nice": false, "zero": false, "reverse": true}, "axis": null},
              "y2": {"field": "y1"},
              "color": {"field": "v", "type": "quantitative", "scale": {"domain": [0, 0.125, 0.375, 0.625, 0.875, 1], "range": ["#000080", "#0000ff", "#00ffff", "#ffff00", "#ff0000", "#800000"], "interpolate": "rgb"}, "legend": null}
            }}
         ],
         "resolve": {"scale": {"x": "independent", "y": "independent"}}},
        {"title": "Multigrid", "width": 146, "height": 190, "data": {"name": "shapes"},
         "transform": [{"flatten": ["m"]}, {"filter": "datum.m === 'Multigrid'"}],
         "mark": {"type": "rect", "clip": true},
         "encoding": {
           "x": {"field": "x0", "type": "quantitative", "scale": {"domain": [0, 146], "nice": false, "zero": false}, "axis": null},
           "x2": {"field": "x1"},
           "y": {"field": "y0", "type": "quantitative", "scale": {"domain": [0, 190], "nice": false, "zero": false, "reverse": true}, "axis": null},
           "y2": {"field": "y1"},
           "color": {"field": "v", "type": "quantitative", "scale": {"domain": [0, 0.125, 0.375, 0.625, 0.875, 1], "range": ["#000080", "#0000ff", "#00ffff", "#ffff00", "#ff0000", "#800000"], "interpolate": "rgb"}, "legend": null}
         }}
      ]
    }
  ]
}
